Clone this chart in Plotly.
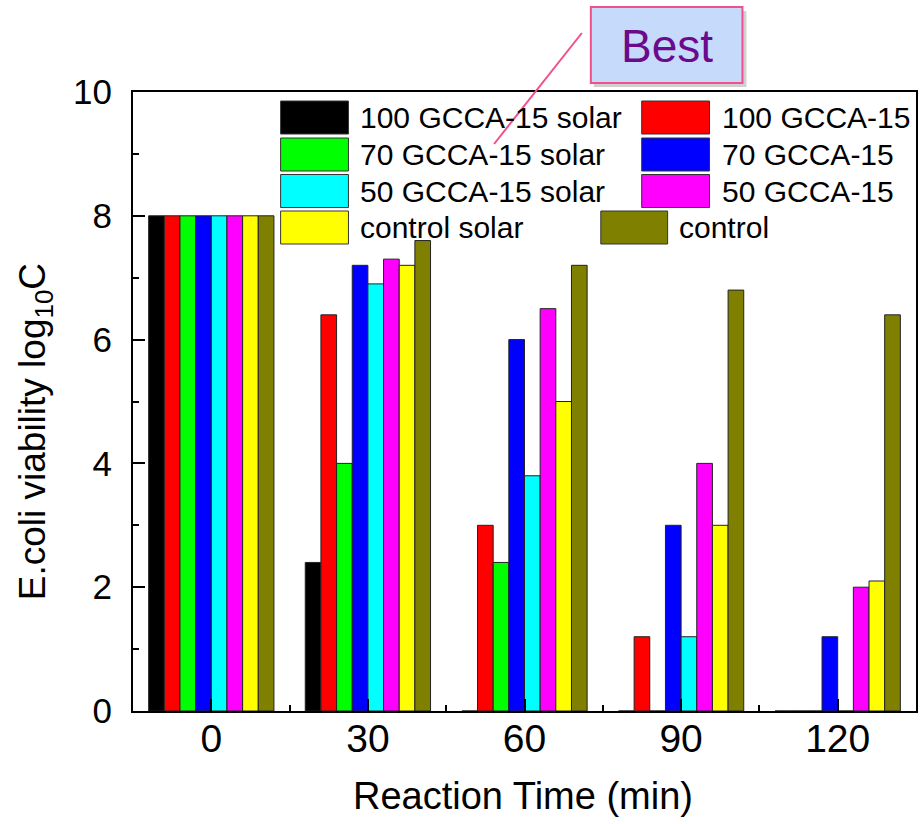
import plotly.graph_objects as go

# ---------------- data ----------------
times = [0, 30, 60, 90, 120]
series_names = [
    "100 GCCA-15 solar", "100 GCCA-15",
    "70 GCCA-15 solar", "70 GCCA-15",
    "50 GCCA-15 solar", "50 GCCA-15",
    "control solar", "control",
]
series_colors = ["#000000", "#FF0000", "#00FF00", "#0000FF",
                 "#00FFFF", "#FF00FF", "#FFFF00", "#808000"]

v_100_solar = [8.0, 2.4, 0.0, 0.0, 0.0]
v_100 = [8.0, 6.4, 3.0, 1.2, 0.0]
v_70_solar = [8.0, 4.0, 2.4, 0.0, 0.0]
v_70 = [8.0, 7.2, 6.0, 3.0, 1.2]
v_50_solar = [8.0, 6.9, 3.8, 1.2, 0.0]
v_50 = [8.0, 7.3, 6.5, 4.0, 2.0]
v_control_solar = [8.0, 7.2, 5.0, 3.0, 2.1]
v_control = [8.0, 7.6, 7.2, 6.8, 6.4]

series_values = [v_100_solar, v_100, v_70_solar, v_70,
                 v_50_solar, v_50, v_control_solar, v_control]

x_tick_labels = ["0", "30", "60", "90", "120"]
y_tick_values = [0, 2, 4, 6, 8, 10]

FONT = "Arial, 'Liberation Sans', sans-serif"

# ---------------- layout geometry (pixels) ----------------
W, H = 923, 824
ML, MR, MT, MB = 133, 5, 92, 113
PW = W - ML - MR
PH = H - MT - MB


def px(x):
    return (x - ML) / PW


def py(y):
    return 1 - (y - MT) / PH


fig = go.Figure()
for name, col, vals in zip(series_names, series_colors, series_values):
    fig.add_trace(go.Bar(
        x=times, y=vals, name=name,
        marker=dict(color=col, line=dict(color="#222222", width=1)),
        showlegend=False,
    ))

shapes = []
annotations = []

# ---------- manual legend ----------
row_centers = [117.5, 154.5, 191.0, 227.5]
sw_h = 33
left_sw = (281, 349, 359)
right_sw = (643, 711, 722)
for i, (name, col) in enumerate(zip(series_names, series_colors)):
    row = i // 2
    colm = i % 2
    yc = row_centers[row]
    if colm == 0:
        x0, x1, xt = left_sw
    else:
        x0, x1, xt = right_sw
        if name == "control":
            x0, x1, xt = 602, 669, 678
    shapes.append(dict(type="rect", xref="paper", yref="paper",
                       x0=px(x0), x1=px(x1), y0=py(yc + sw_h / 2), y1=py(yc - sw_h / 2),
                       fillcolor=col, line=dict(color="#333333", width=1), layer="above"))
    annotations.append(dict(xref="paper", yref="paper", x=px(xt), y=py(yc),
                            text=name, showarrow=False, xanchor="left", yanchor="middle",
                            font=dict(family=FONT, size=30, color="black")))

# ---------- "Best" callout ----------
shapes.append(dict(type="line", xref="paper", yref="paper",
                   x0=px(583), y0=py(33), x1=px(495), y1=py(144),
                   line=dict(color="#F0508C", width=2), layer="above"))
shapes.append(dict(type="rect", xref="paper", yref="paper",
                   x0=px(595), x1=px(748), y0=py(87), y1=py(11),
                   fillcolor="rgba(120,120,120,0.35)", line=dict(width=0), layer="above"))
shapes.append(dict(type="rect", xref="paper", yref="paper",
                   x0=px(592), x1=px(744), y0=py(83), y1=py(7),
                   fillcolor="#C6DAFB", line=dict(color="#F0508C", width=2), layer="above"))
annotations.append(dict(xref="paper", yref="paper", x=px(668), y=py(46),
                        text="Best", showarrow=False, xanchor="center", yanchor="middle",
                        font=dict(family=FONT, size=46, color="#6B0A8C")))

# ---------- axis titles ----------
annotations.append(dict(xref="paper", yref="paper", x=px(524), y=py(796),
                        text="Reaction Time (min)", showarrow=False,
                        xanchor="center", yanchor="middle",
                        font=dict(family=FONT, size=38, color="black")))
annotations.append(dict(xref="paper", yref="paper", x=px(35), y=py(432),
                        text="E.coli viability log<sub>10</sub>C", showarrow=False,
                        textangle=-90, xanchor="center", yanchor="middle",
                        font=dict(family=FONT, size=37, color="black")))

fig.update_layout(
    width=W, height=H,
    margin=dict(l=ML, r=MR, t=MT, b=MB, pad=0),
    paper_bgcolor="white", plot_bgcolor="white",
    barmode="group", bargap=0.2, bargroupgap=0.0,
    shapes=shapes, annotations=annotations,
    showlegend=False,
    font=dict(family=FONT, color="black"),
)
fig.update_xaxes(
    range=[-15, 135], tickmode="array", tickvals=times, ticktext=x_tick_labels,
    ticks="inside", ticklen=12, tickwidth=2, tickcolor="black",
    minor=dict(ticks="inside", dtick=15, tick0=15, ticklen=6, tickwidth=2, tickcolor="black"),
    showline=True, linecolor="black", linewidth=2, mirror=True,
    showgrid=False, zeroline=False,
    tickfont=dict(family=FONT, size=39, color="black"),
    ticklabelstandoff=-8,
)
fig.update_yaxes(
    range=[0, 10], tickmode="array", tickvals=y_tick_values,
    ticks="inside", ticklen=12, tickwidth=2, tickcolor="black",
    minor=dict(ticks="inside", dtick=1, ticklen=6, tickwidth=2, tickcolor="black"),
    showline=True, linecolor="black", linewidth=2, mirror=True,
    showgrid=False, zeroline=False,
    tickfont=dict(family=FONT, size=35, color="black"),
    ticklabelstandoff=12,
)

fig.write_html("out.html")
